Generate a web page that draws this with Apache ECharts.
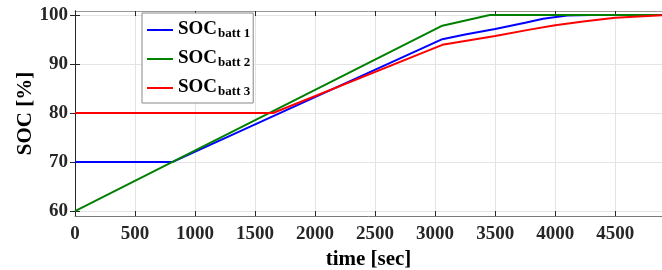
<!DOCTYPE html>
<html>
<head>
<meta charset="utf-8">
<script src="https://cdn.jsdelivr.net/npm/echarts@6/dist/echarts.min.js"></script>
<style>
  html, body { margin: 0; padding: 0; background: #fff; }
  #main { width: 662px; height: 270px; }
</style>
</head>
<body>
<div id="main"></div>
<script>
// values
const batt1Time = [0, 810, 3060, 3250, 3500, 3750, 3900, 4100, 4300, 4890];
const batt1Soc  = [70, 70, 95.05, 96.0, 97.15, 98.4, 99.2, 99.9, 100, 100];

const batt2Time = [0, 3060, 3455, 4890];
const batt2Soc  = [60, 97.8, 100, 100];

const batt3Time = [0, 1650, 3060, 3500, 3787, 4000, 4250, 4500, 4890];
const batt3Soc  = [80, 80, 93.9, 95.7, 97.0, 97.9, 98.7, 99.4, 99.93];

const battNames  = ['batt 1', 'batt 2', 'batt 3'];
const battColors = ['#0000ff', '#008000', '#ff0000'];
const yTicks = [60, 70, 80, 90, 100];

const font = 'Liberation Serif';
const toPairs = (t, v) => t.map((x, i) => [x, v[i]]);
const seriesData = [toPairs(batt1Time, batt1Soc), toPairs(batt2Time, batt2Soc), toPairs(batt3Time, batt3Soc)];

const chart = echarts.init(document.getElementById('main'));

const labelStyle = { fontFamily: font, fontSize: 19, fontWeight: 'bold', color: '#262626', formatter: v => String(v) };
const nameStyle = { fontFamily: font, fontSize: 21, fontWeight: 'bold', color: '#000' };
const tickStyle = { inside: true, length: 5, lineStyle: { color: '#262626', width: 1 } };
const gridLine = { show: true, lineStyle: { color: '#e4e4e4', width: 1 } };

const option = {
  animation: false,
  backgroundColor: '#fff',
  grid: { left: 75, right: 0, top: 11, bottom: 54, outerBoundsMode: 'none' },
  legend: {
    orient: 'vertical',
    left: 142, top: 13,
    padding: [5, 3, 5, 5],
    itemGap: 7,
    itemWidth: 26, itemHeight: 2,
    icon: 'rect',
    backgroundColor: '#fff',
    borderColor: '#888', borderWidth: 1, borderRadius: 0,
    data: battNames,
    formatter: n => '{a|SOC}{b|' + n + '}',
    textStyle: {
      rich: {
        a: { fontFamily: font, fontSize: 19, fontWeight: 'bold', color: '#000', lineHeight: 20, verticalAlign: 'top' },
        b: { fontFamily: font, fontSize: 13, fontWeight: 'bold', color: '#000', lineHeight: 20, padding: [9, 0, 0, 1], verticalAlign: 'bottom' }
      }
    }
  },
  xAxis: [
    {
      type: 'value', min: 0, max: 4890, interval: 500, position: 'bottom',
      name: 'time [sec]', nameLocation: 'middle', nameGap: 33, nameTextStyle: nameStyle,
      axisLine: { lineStyle: { color: '#7a7a7a', width: 1 } },
      axisTick: tickStyle,
      axisLabel: Object.assign({ margin: 9, showMaxLabel: false }, labelStyle),
      splitLine: gridLine
    },
    {
      type: 'value', min: 0, max: 4890, interval: 500, position: 'top',
      axisLine: { show: true, lineStyle: { color: '#9a9a9a', width: 1 } },
      axisTick: tickStyle,
      axisLabel: { show: false },
      splitLine: { show: false }
    }
  ],
  yAxis: [
    {
      type: 'value', min: 59, max: 100.8, position: 'left',
      name: 'SOC [%]', nameLocation: 'middle', nameGap: 39, nameMoveOverlap: false, nameTextStyle: nameStyle,
      axisLine: { show: true, lineStyle: { color: '#262626', width: 1 } },
      axisTick: Object.assign({ customValues: yTicks }, tickStyle),
      axisLabel: Object.assign({ customValues: yTicks, margin: 7 }, labelStyle),
      splitLine: gridLine
    },
    {
      type: 'value', min: 59, max: 100.8, position: 'right',
      axisLine: { show: true, lineStyle: { color: '#262626', width: 1 } },
      axisTick: Object.assign({ customValues: yTicks }, tickStyle),
      axisLabel: { show: false },
      splitLine: { show: false }
    }
  ],
  series: battNames.map((n, i) => ({
    name: n,
    type: 'line',
    data: seriesData[i],
    symbol: 'none',
    color: battColors[i],
    lineStyle: { color: battColors[i], width: 2 }
  }))
};

chart.setOption(option);
</script>
</body>
</html>
